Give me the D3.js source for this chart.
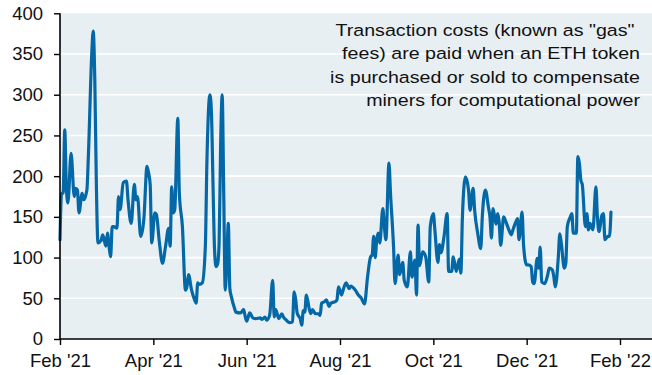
<!DOCTYPE html>
<html>
<head>
<meta charset="utf-8">
<script src="https://cdnjs.cloudflare.com/ajax/libs/d3/7.8.5/d3.min.js"></script>
<style>
  html, body { margin: 0; padding: 0; background: #ffffff; }
  svg { display: block; }
  text { font-family: "Liberation Sans", Arial, Helvetica, sans-serif; fill: #111; }
</style>
</head>
<body>
<svg id="chart" width="652" height="375"></svg>
<script>
// Daily ETH gas fees (USD-equivalent units as plotted)
const dates = [
  "2021-02-01","2021-02-02","2021-02-03","2021-02-04","2021-02-05","2021-02-06","2021-02-08","2021-02-10","2021-02-11","2021-02-12",
  "2021-02-13","2021-02-15","2021-02-16","2021-02-18","2021-02-19","2021-02-21","2021-02-22","2021-02-23","2021-02-24","2021-02-25",
  "2021-02-27","2021-02-28","2021-03-02","2021-03-03","2021-03-04","2021-03-05","2021-03-06","2021-03-07","2021-03-09","2021-03-10",
  "2021-03-11","2021-03-13","2021-03-15","2021-03-16","2021-03-18","2021-03-20","2021-03-21","2021-03-22","2021-03-24","2021-03-26",
  "2021-03-28","2021-03-29","2021-03-30","2021-03-31","2021-04-02","2021-04-03","2021-04-05","2021-04-07","2021-04-09","2021-04-11",
  "2021-04-12","2021-04-13","2021-04-14","2021-04-15","2021-04-17","2021-04-18","2021-04-20","2021-04-22","2021-04-23","2021-04-24",
  "2021-04-26","2021-04-28","2021-04-29","2021-04-30","2021-05-01","2021-05-03","2021-05-05","2021-05-06","2021-05-08","2021-05-09",
  "2021-05-10","2021-05-11","2021-05-12","2021-05-13","2021-05-14","2021-05-15","2021-05-16","2021-05-17","2021-05-18","2021-05-19",
  "2021-05-20","2021-05-21","2021-05-22","2021-05-24","2021-05-25","2021-05-28","2021-05-30","2021-05-31","2021-06-01","2021-06-03",
  "2021-06-05","2021-06-07","2021-06-10","2021-06-11","2021-06-13","2021-06-14","2021-06-16","2021-06-18","2021-06-19","2021-06-20",
  "2021-06-22","2021-06-24","2021-06-25","2021-06-27","2021-06-29","2021-07-01","2021-07-02","2021-07-03","2021-07-04","2021-07-05",
  "2021-07-06","2021-07-07","2021-07-08","2021-07-09","2021-07-10","2021-07-12","2021-07-13","2021-07-14","2021-07-16","2021-07-18",
  "2021-07-19","2021-07-20","2021-07-22","2021-07-23","2021-07-25","2021-07-26","2021-07-29","2021-07-30","2021-07-31","2021-08-02",
  "2021-08-03","2021-08-05","2021-08-07","2021-08-08","2021-08-11","2021-08-13","2021-08-15","2021-08-17","2021-08-19","2021-08-21",
  "2021-08-22","2021-08-23","2021-08-24","2021-08-25","2021-08-26","2021-08-27","2021-08-29","2021-08-30","2021-08-31","2021-09-02",
  "2021-09-03","2021-09-05","2021-09-06","2021-09-08","2021-09-09","2021-09-11","2021-09-12","2021-09-14","2021-09-16","2021-09-17",
  "2021-09-19","2021-09-20","2021-09-21","2021-09-22","2021-09-24","2021-09-26","2021-09-28","2021-09-29","2021-10-01","2021-10-02",
  "2021-10-04","2021-10-05","2021-10-06","2021-10-08","2021-10-10","2021-10-11","2021-10-13","2021-10-14","2021-10-16","2021-10-18",
  "2021-10-19","2021-10-20","2021-10-22","2021-10-24","2021-10-25","2021-10-27","2021-10-28","2021-10-30","2021-11-01","2021-11-02",
  "2021-11-04","2021-11-06","2021-11-07","2021-11-08","2021-11-09","2021-11-11","2021-11-12","2021-11-13","2021-11-14","2021-11-16",
  "2021-11-17","2021-11-19","2021-11-21","2021-11-22","2021-11-24","2021-11-25","2021-11-26","2021-11-28","2021-11-29","2021-12-01",
  "2021-12-02","2021-12-04","2021-12-05","2021-12-06","2021-12-08","2021-12-09","2021-12-10","2021-12-11","2021-12-13","2021-12-15",
  "2021-12-16","2021-12-18","2021-12-19","2021-12-20","2021-12-22","2021-12-23","2021-12-24","2021-12-26","2021-12-27","2021-12-28",
  "2021-12-30","2021-12-31","2022-01-01","2022-01-03","2022-01-04","2022-01-05","2022-01-06","2022-01-07","2022-01-09","2022-01-10",
  "2022-01-11","2022-01-12","2022-01-14","2022-01-16","2022-01-17","2022-01-18","2022-01-20","2022-01-21","2022-01-22","2022-01-24",
  "2022-01-25","2022-01-26"
];
const fees = [
  122,179,179,257,187,167,228,175,185,183,
  155,179,171,183,228,347,378,318,188,118,
  121,128,114,130,114,101,138,138,136,175,
  159,192,194,171,142,190,171,175,126,147,
  212,204,190,118,155,153,118,93,114,136,
  114,187,155,159,271,179,138,60,65,79,
  60,48,44,69,67,69,114,216,300,277,
  190,110,89,92,118,240,300,180,60,95,
  142,62,52,38,33,32,36,28,22,32,
  26,25,26,24,27,23,29,72,27,36,
  25,31,27,23,20,21,58,49,32,28,
  25,17,35,33,54,36,31,36,31,31,
  29,44,46,48,40,44,46,48,64,54,
  60,69,62,65,60,54,50,43,76,101,
  103,126,100,122,130,118,160,138,122,216,
  179,113,68,103,79,94,72,64,107,76,
  97,54,140,90,107,101,70,138,154,134,
  94,116,106,126,154,83,83,101,83,98,
  81,150,199,183,158,185,158,130,111,150,
  183,162,150,124,160,141,154,144,115,150,
  146,136,128,134,144,148,122,156,114,91,
  91,89,70,68,99,87,113,70,68,79,
  87,85,77,64,100,129,118,87,93,138,
  150,154,130,130,224,216,195,189,138,154,
  134,142,134,187,150,132,152,154,122,126,
  126,156
];

// Axis ticks
const tickDates = ["2021-02-01","2021-04-01","2021-06-01","2021-08-01","2021-10-01","2021-12-01","2022-02-01"];
const yTicks = [0, 50, 100, 150, 200, 250, 300, 350, 400];
const annotation = [
  'Transaction costs (known as "gas" ',
  "fees) are paid when an ETH token",
  "is purchased or sold to compensate",
  "miners for computational power"
];

const parse = d3.timeParse("%Y-%m-%d");
const data = dates.map((d, i) => ({ date: parse(d), value: fees[i] }));
const ticks = tickDates.map(parse);

const svg = d3.select("#chart");
const plotLeft = 60, plotRight = 652, plotTop = 13.3, plotBottom = 339;

// Two-month ticks are evenly spaced on the axis
const step = (620 - plotLeft) / (ticks.length - 1);
const x = d3.scaleTime()
  .domain(ticks)
  .range(ticks.map((_, i) => plotLeft + i * step));
const y = d3.scaleLinear().domain([0, 400]).range([plotBottom, plotTop]);

// Plot background
svg.append("rect")
  .attr("x", plotLeft).attr("y", plotTop)
  .attr("width", plotRight - plotLeft).attr("height", plotBottom - plotTop)
  .attr("fill", "#e7eff3");

// Horizontal gridlines
svg.append("g")
  .selectAll("line")
  .data(yTicks.filter(v => v > 0 && v < 400))
  .join("line")
  .attr("x1", plotLeft).attr("x2", plotRight)
  .attr("y1", d => y(d)).attr("y2", d => y(d))
  .attr("stroke", "#ffffff")
  .attr("stroke-width", 1.6);

// Fee line
const line = d3.line()
  .x(d => x(d.date))
  .y(d => y(d.value))
  .curve(d3.curveMonotoneX);

svg.append("path")
  .datum(data)
  .attr("fill", "none")
  .attr("stroke", "#0568a6")
  .attr("stroke-width", 3.2)
  .attr("stroke-linejoin", "round")
  .attr("stroke-linecap", "round")
  .attr("d", line);

// Axes
const yAxis = svg.append("g")
  .attr("transform", `translate(${plotLeft},0)`)
  .call(d3.axisLeft(y).tickValues(yTicks).tickSize(6).tickPadding(11).tickSizeOuter(0));

const xAxis = svg.append("g")
  .attr("transform", `translate(0,${plotBottom})`)
  .call(d3.axisBottom(x).tickValues(ticks).tickFormat(d3.timeFormat("%b '%y")).tickSize(6).tickPadding(9).tickSizeOuter(0));

[yAxis, xAxis].forEach(g => {
  g.select(".domain").attr("stroke", "#000").attr("stroke-width", 1.6);
  g.selectAll(".tick line").attr("stroke", "#000").attr("stroke-width", 1.4);
  g.selectAll(".tick text")
    .attr("fill", "#111")
    .style("font-family", '"Liberation Sans", Arial, sans-serif')
    .style("font-size", "18.5px");
});
// x axis line runs to the right edge
xAxis.select(".domain").attr("d", `M${plotLeft},0H${plotRight}`);
yAxis.select(".domain").attr("d", `M0,${plotTop}V${plotBottom}`);

// Annotation block, right-aligned
const note = svg.append("g")
  .attr("transform", "translate(640,0) scale(1.155,1)");
note.selectAll("text")
  .data(annotation)
  .join("text")
  .attr("xml:space", "preserve")
  .attr("x", 0)
  .attr("y", (d, i) => 36 + i * 23.3)
  .attr("text-anchor", "end")
  .style("white-space", "pre")
  .style("font-size", "17px")
  .attr("fill", "#111")
  .text(d => d);
</script>
</body>
</html>
